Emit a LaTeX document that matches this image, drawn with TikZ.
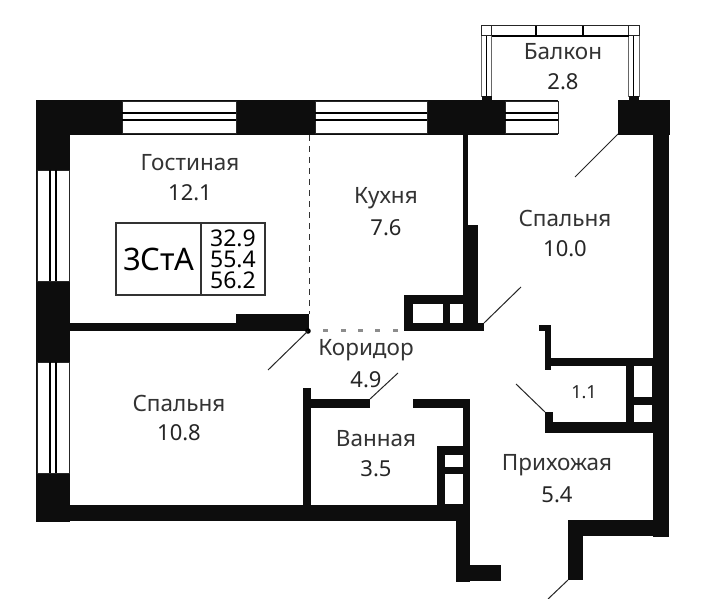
\documentclass[tikz,border=0pt]{standalone}
\usepackage{fontspec}
\setmainfont{Noto Sans}
\begin{document}
\begin{tikzpicture}
		[x=1pt, y=-1pt, inner sep=0pt,
		wall/.style		= {fill=black!95!white},
		glass/.style	= {fill=white, draw=black!85!white, line width=.8pt},
		bar/.style		= {draw=black, line width=1.7pt},
		swing/.style	= {draw=black!85!white, line width=1pt},
		room/.style		= {font=\fontsize{22.5}{22.5}\selectfont, text=black!80!white},
		size/.style		= {font=\fontsize{22}{22}\selectfont, text=black!85!white},
		info/.style		= {draw=black!80!white, line width=1.2pt, fill=white}]
		
		\useasboundingbox (0, 0) rectangle (715, 599);
		\fill [white] (0, 0) rectangle (715, 599);
		
		% outer walls
		\fill [wall] (36, 100) rectangle (558, 135);
		\fill [wall] (618, 100) rectangle (670, 135);
		\fill [wall] (36, 100) rectangle (70, 522);
		\fill [wall] (653, 135) rectangle (669, 537);
		\fill [wall] (36, 505) rectangle (470, 521);
		\fill [wall] (456, 505) rectangle (470, 582);
		\fill [wall] (456, 565) rectangle (501, 581);
		\fill [wall] (568, 520) rectangle (669, 536);
		\fill [wall] (568, 520) rectangle (583, 580);
		
		% inner walls
		\fill [wall] (70, 323) rectangle (309, 331);
		\fill [wall] (236, 314) rectangle (309, 331);
		\fill [wall] (463, 135) rectangle (468, 300);
		\fill [wall] (463, 225) rectangle (478, 331);
		\fill [wall] (404, 295) rectangle (478, 331);
		\fill [wall] (478, 323) rectangle (484, 331);
		\fill [white] (413, 304) rectangle (443, 323);
		\fill [white] (450, 304) rectangle (463, 323);
		\fill [wall] (303, 388) rectangle (311, 505);
		\fill [wall] (303, 399) rectangle (370, 408);
		\fill [wall] (413, 399) rectangle (470, 408);
		\fill [wall] (463, 399) rectangle (470, 505);
		\fill [wall] (437, 446) rectangle (463, 505);
		\fill [white] (445, 455) rectangle (463, 467);
		\fill [white] (445, 474) rectangle (463, 504);
		
		% closet
		\fill [wall] (539, 325) rectangle (551, 331);
		\fill [wall] (545, 325) rectangle (551, 370);
		\fill [wall] (545, 358) rectangle (653, 366);
		\fill [wall] (545, 412) rectangle (553, 433);
		\fill [wall] (545, 422) rectangle (653, 433);
		\fill [wall] (626, 358) rectangle (653, 433);
		\fill [white] (634, 366) rectangle (652, 397);
		\fill [white] (634, 405) rectangle (652, 422);
		
		% windows
		\foreach \xa/\xb in {122/236, 315/427, 505/558} {
			\draw [glass] (\xa, 101.5) rectangle (\xb, 133);
			\draw [bar] (\xa, 113) -- (\xb, 113);
			\draw [bar] (\xa, 120) -- (\xb, 120);
		}
		\foreach \ya/\yb in {170/281, 362/473} {
			\draw [glass] (37, \ya) rectangle (69.5, \yb);
			\draw [bar] (50, \ya) -- (50, \yb);
			\draw [bar] (56, \ya) -- (56, \yb);
		}
		
		% balcony
		\draw [glass] (481.5, 25.5) rectangle (639, 36);
		\draw [bar, line width=1.3pt] (536, 26) -- (536, 36);
		\draw [bar, line width=1.3pt] (583, 26) -- (583, 36);
		\foreach \xa/\xb in {481.5/491.5, 628.5/639} {
			\draw [glass, draw=black!60!white, line width=1pt] (\xa, 36) rectangle (\xb, 97);
			\draw [black, line width=1pt] (\xa+5, 36) -- (\xa+5, 97);
			\draw [glass, line width=1pt] (\xa, 26) rectangle (\xb, 36);
			\fill [wall] (\xa, 96) rectangle (\xb, 100);
		}
		\draw [black, line width=1.3pt] (491.5, 36) -- (628.5, 36);
		
		% partition and vents
		\draw [black!80!white, line width=1pt, dash pattern=on 6pt off 5pt] (309, 135) -- (309, 314);
		\fill [black] (308, 331) circle (2.8);
		\foreach \xm in {325, 343, 360, 377, 395} {
			\fill [black!45!white] (\xm-2.5, 329) rectangle (\xm+2.5, 331.5);
		}
		
		% door swings
		\draw [swing] (618, 134) -- (575, 177);
		\draw [swing] (484, 323) -- (521, 287);
		\draw [swing] (308, 331) -- (268, 370);
		\draw [swing] (370, 399) -- (398, 373);
		\draw [swing] (545, 412) -- (516, 384);
		\draw [swing] (568, 580) -- (548, 599);
		
		% type box
		\node at (158.5, 259) [info, minimum width=85pt, minimum height=72pt, font=\fontsize{31}{31}\selectfont] (typebox) {3СтА};
		\node at (233, 259) [info, minimum width=64pt, minimum height=72pt, align=center, font=\fontsize{23}{21}\selectfont] (areabox) {32.9\\55.4\\56.2};
		
		% rooms
		\node at (190, 163)		[room]	(living)	{Гостиная};
		\node at (190, 193)		[size]	(livingv)	{12.1};
		\node at (386, 198)		[room]	(kitchen)	{Кухня};
		\node at (386, 228)		[size]	(kitchenv)	{7.6};
		\node at (565, 218)		[room]	(bed1)		{Спальня};
		\node at (565, 249)		[size]	(bed1v)		{10.0};
		\node at (563, 52)		[room]	(balcony)	{Балкон};
		\node at (563, 82)		[size]	(balconyv)	{2.8};
		\node at (366, 350)		[room]	(hall)		{Коридор};
		\node at (366, 380)		[size]	(hallv)		{4.9};
		\node at (179, 403)		[room]	(bed2)		{Спальня};
		\node at (179, 433)		[size]	(bed2v)		{10.8};
		\node at (376, 439)		[room]	(bath)		{Ванная};
		\node at (376, 469)		[size]	(bathv)		{3.5};
		\node at (584, 392)		[size, font=\fontsize{18}{18}\selectfont]	(closetv)	{1.1};
		\node at (557, 465)		[room]	(entry)		{Прихожая};
		\node at (557, 495)		[size]	(entryv)	{5.4};
		
		\end{tikzpicture}
\end{document}
